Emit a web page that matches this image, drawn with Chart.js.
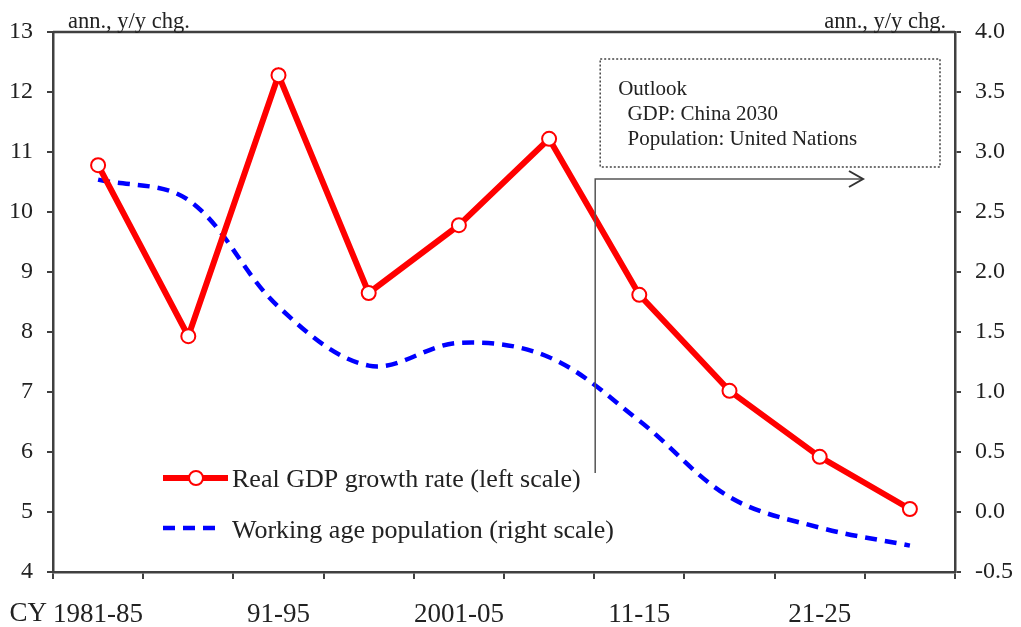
<!DOCTYPE html>
<html>
<head>
<meta charset="utf-8">
<script src="https://cdn.jsdelivr.net/npm/chart.js@4.4.1/dist/chart.umd.min.js"></script>
<style>
  html, body { margin: 0; padding: 0; background: #ffffff; }
  #wrap { width: 1021px; height: 627px; position: relative; }
</style>
</head>
<body>
<div id="wrap"><canvas id="c" width="1021" height="627"></canvas></div>
<script>
// ---- data ----
const categories = ['1981-85', '86-90', '91-95', '96-2000', '2001-05', '06-10', '11-15', '16-20', '21-25', '26-30'];
const shownTickLabels = ['1981-85', '', '91-95', '', '2001-05', '', '11-15', '', '21-25', ''];
const gdpGrowth = [10.78, 7.93, 12.28, 8.65, 9.78, 11.22, 8.62, 7.02, 5.92, 5.05];
const workingAgePop = [2.77, 2.6, 1.71, 1.22, 1.41, 1.29, 0.76, 0.125, -0.13, -0.28];
const leftTicks = { min: 4, max: 13, step: 1 };
const rightTicks = { min: -0.5, max: 4.0, step: 0.5 };
const gdpLabel = 'Real GDP growth rate (left scale)';
const popLabel = 'Working age population (right scale)';
const unitLabel = 'ann., y/y chg.';
const outlookLines = ['Outlook', ' GDP: China 2030', ' Population: United Nations'];
const outlookStartIndex = 6; // forecast begins at 11-15

const SERIF = '"Liberation Serif", "Times New Roman", serif';
const TXT = '#222222';
const AX = '#404040';

const annotations = {
  id: 'annotations',
  afterDraw(chart) {
    const ctx = chart.ctx;
    const ca = chart.chartArea;
    const x = chart.scales.x;
    const step = x.getPixelForValue(1) - x.getPixelForValue(0);
    ctx.save();

    // top frame line
    ctx.strokeStyle = AX; ctx.lineWidth = 2.5;
    ctx.beginPath(); ctx.moveTo(ca.left, ca.top); ctx.lineTo(ca.right, ca.top); ctx.stroke();

    // unit labels
    ctx.fillStyle = TXT;
    ctx.font = '22.5px ' + SERIF;
    ctx.textBaseline = 'alphabetic';
    ctx.textAlign = 'left';
    ctx.fillText(unitLabel, ca.left + 15, ca.top - 4);
    ctx.textAlign = 'right';
    ctx.fillText(unitLabel, ca.right - 9, ca.top - 4);

    // "CY" prefix before first category label
    ctx.font = '27px ' + SERIF;
    const w0 = ctx.measureText(categories[0]).width;
    ctx.textAlign = 'right';
    ctx.fillText('CY', x.getPixelForValue(0) - w0 / 2 - 6, 621);

    // outlook box (dotted)
    const bx0 = x.getPixelForValue(outlookStartIndex) - step / 2 + 6;
    const bx1 = ca.right - 15;
    const by0 = 59, by1 = 167;
    ctx.strokeStyle = '#444'; ctx.lineWidth = 1.5;
    ctx.setLineDash([2, 2]);
    ctx.strokeRect(bx0, by0, bx1 - bx0, by1 - by0);
    ctx.setLineDash([]);

    ctx.fillStyle = TXT;
    ctx.font = '21px ' + SERIF;
    ctx.textAlign = 'left';
    ctx.fillText(outlookLines[0], bx0 + 18, 95);
    ctx.fillText(outlookLines[1], bx0 + 22, 120);
    ctx.fillText(outlookLines[2], bx0 + 22, 145);

    // arrow marking forecast start
    const ax = x.getPixelForValue(outlookStartIndex) - step / 2 + 1;
    const ay = 179;
    const aEnd = x.getPixelForValue(8) + step * 0.48;
    ctx.strokeStyle = '#555'; ctx.lineWidth = 1.5;
    ctx.beginPath();
    ctx.moveTo(ax, 473); ctx.lineTo(ax, ay); ctx.lineTo(aEnd, ay);
    ctx.stroke();
    ctx.strokeStyle = '#333'; ctx.lineWidth = 2;
    ctx.beginPath();
    ctx.moveTo(aEnd - 14, ay - 8); ctx.lineTo(aEnd, ay); ctx.lineTo(aEnd - 14, ay + 8);
    ctx.stroke();

    // legend
    const lx = 163;
    ctx.strokeStyle = '#ff0000'; ctx.lineWidth = 6;
    ctx.beginPath(); ctx.moveTo(lx, 478); ctx.lineTo(lx + 65, 478); ctx.stroke();
    ctx.fillStyle = '#ffffff'; ctx.strokeStyle = '#ff0000'; ctx.lineWidth = 2;
    ctx.beginPath(); ctx.arc(lx + 33, 478, 7, 0, Math.PI * 2); ctx.fill(); ctx.stroke();

    ctx.strokeStyle = '#0000ff'; ctx.lineWidth = 4.5;
    ctx.setLineDash([12, 8]);
    ctx.beginPath(); ctx.moveTo(lx, 528); ctx.lineTo(lx + 60, 528); ctx.stroke();
    ctx.setLineDash([]);

    ctx.fillStyle = TXT;
    ctx.font = '26px ' + SERIF;
    ctx.textAlign = 'left';
    ctx.fillText(gdpLabel, 232, 487);
    ctx.fillText(popLabel, 232, 538);

    ctx.restore();
  }
};

new Chart(document.getElementById('c'), {
  type: 'line',
  data: {
    labels: categories,
    datasets: [
      {
        label: gdpLabel,
        data: gdpGrowth,
        yAxisID: 'y',
        borderColor: '#ff0000',
        borderWidth: 6,
        pointRadius: 7,
        pointBorderWidth: 2,
        pointBackgroundColor: '#ffffff',
        pointBorderColor: '#ff0000',
        tension: 0,
        order: 1
      },
      {
        label: popLabel,
        data: workingAgePop,
        yAxisID: 'y1',
        borderColor: '#0000ff',
        borderWidth: 4.5,
        borderDash: [12, 8],
        pointRadius: 0,
        tension: 0.35,
        order: 2
      }
    ]
  },
  options: {
    responsive: false,
    animation: false,
    devicePixelRatio: 1,
    layout: { padding: { top: 32, left: 0, right: 0, bottom: 0 } },
    plugins: { legend: { display: false }, tooltip: { enabled: false } },
    scales: {
      x: {
        type: 'category',
        offset: true,
        grid: { display: true, drawOnChartArea: false, drawTicks: true, tickLength: 7, offset: true, color: AX, lineWidth: 2 },
        border: { display: true, color: AX, width: 2.5 },
        ticks: {
          autoSkip: false, maxRotation: 0, minRotation: 0, padding: 20,
          color: TXT, font: { family: SERIF, size: 27 },
          callback: (v, i) => shownTickLabels[i]
        },
        afterFit: s => { s.height = 55; }
      },
      y: {
        position: 'left',
        min: leftTicks.min, max: leftTicks.max,
        grid: { display: true, drawOnChartArea: false, tickLength: 6, color: AX, lineWidth: 2 },
        border: { display: true, color: AX, width: 2.5 },
        ticks: { stepSize: leftTicks.step, padding: 14, color: TXT, font: { family: SERIF, size: 24 } },
        afterFit: s => { s.width = 53; }
      },
      y1: {
        position: 'right',
        min: rightTicks.min, max: rightTicks.max,
        grid: { display: true, drawOnChartArea: false, tickLength: 6, color: AX, lineWidth: 2 },
        border: { display: true, color: AX, width: 2.5 },
        ticks: { stepSize: rightTicks.step, padding: 14, color: TXT, font: { family: SERIF, size: 24 },
          callback: v => Number(v).toFixed(1) },
        afterFit: s => { s.width = 66; }
      }
    }
  },
  plugins: [annotations]
});
</script>
</body>
</html>
